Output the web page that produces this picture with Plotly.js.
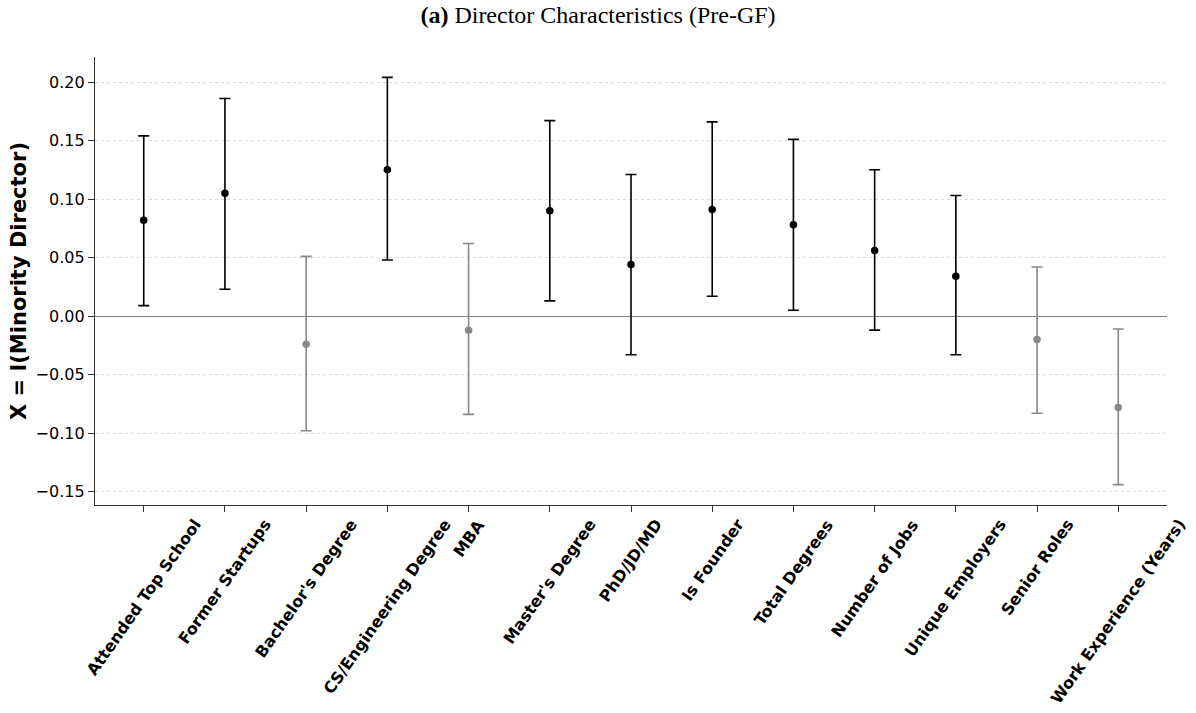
<!DOCTYPE html>
<html>
<head>
<meta charset="utf-8">
<script src="https://cdn.plot.ly/plotly-3.0.1.min.js"></script>
<style>html,body{margin:0;padding:0;background:#fff;}#chart{width:1196px;height:713px;}</style>
</head>
<body>
<div id="chart"></div>
<script>
const categories = ["Attended Top School","Former Startups","Bachelor's Degree","CS/Engineering Degree","MBA","Master's Degree","PhD/JD/MD","Is Founder","Total Degrees","Number of Jobs","Unique Employers","Senior Roles","Work Experience (Years)"];
const coef  = [0.082, 0.105, -0.024, 0.125, -0.012, 0.090, 0.044, 0.091, 0.078, 0.056, 0.034, -0.020, -0.078];
const upper = [0.154, 0.186,  0.051, 0.204,  0.062, 0.167, 0.121, 0.166, 0.151, 0.125, 0.103,  0.042, -0.011];
const lower = [0.009, 0.023, -0.098, 0.048, -0.084, 0.013, -0.033, 0.017, 0.005, -0.012, -0.033, -0.083, -0.144];
const significant = [true, true, false, true, false, true, true, true, true, true, true, false, false];

function build(sig){
  const x=[],y=[],ep=[],em=[];
  categories.forEach((c,i)=>{
    if(significant[i]===sig){x.push(c);y.push(coef[i]);ep.push(upper[i]-coef[i]);em.push(coef[i]-lower[i]);}
  });
  const col = sig ? '#000000' : '#888888';
  return {x:x,y:y,type:'scatter',mode:'markers',
    marker:{color:col,size:7.5},
    error_y:{type:'data',symmetric:false,array:ep,arrayminus:em,color:col,thickness:1.6,width:5.5},
    showlegend:false,hoverinfo:'skip'};
}

const labelAnnotations = categories.map(c=>({
  text:c,x:c,xref:'x',y:0,yref:'paper',xanchor:'center',yanchor:'top',
  yshift:-8,textangle:-55,showarrow:false,
  font:{family:'DejaVu Sans, sans-serif',size:16,color:'#000',weight:'bold'}
}));

const layout = {
  width:1196,height:713,
  paper_bgcolor:'#fff',plot_bgcolor:'#fff',
  margin:{l:95,r:29,t:57,b:208},
  title:{text:'<b>(a)</b> Director Characteristics (Pre-GF)',font:{family:'Liberation Serif, DejaVu Serif, serif',size:24,color:'#000'},x:0.5,xanchor:'center',y:0.979,yanchor:'middle',yref:'container'},
  xaxis:{type:'category',categoryorder:'array',categoryarray:categories,range:[-0.6,12.6],
    showline:true,linecolor:'#333',linewidth:1.2,ticks:'outside',ticklen:6,tickcolor:'#333',tickwidth:1,
    showgrid:false,zeroline:false,showticklabels:false},
  yaxis:{range:[-0.1614,0.2214],dtick:0.05,tick0:0,tickformat:'.2f',
    showline:true,linecolor:'#333',linewidth:1.2,ticks:'outside',ticklen:6,tickcolor:'#333',
    showgrid:true,gridcolor:'#d0d0d0',gridwidth:0.8,griddash:'dot',
    zeroline:true,zerolinecolor:'#808080',zerolinewidth:1.2,
    tickfont:{family:'DejaVu Sans, sans-serif',size:16,color:'#000'},
    title:{text:'X = I(Minority Director)',font:{family:'DejaVu Sans, sans-serif',size:21,color:'#000',weight:'bold'},standoff:3}},
  annotations:labelAnnotations
};

Plotly.newPlot('chart',[build(true),build(false)],layout,{staticPlot:true,displayModeBar:false});
</script>
</body>
</html>
